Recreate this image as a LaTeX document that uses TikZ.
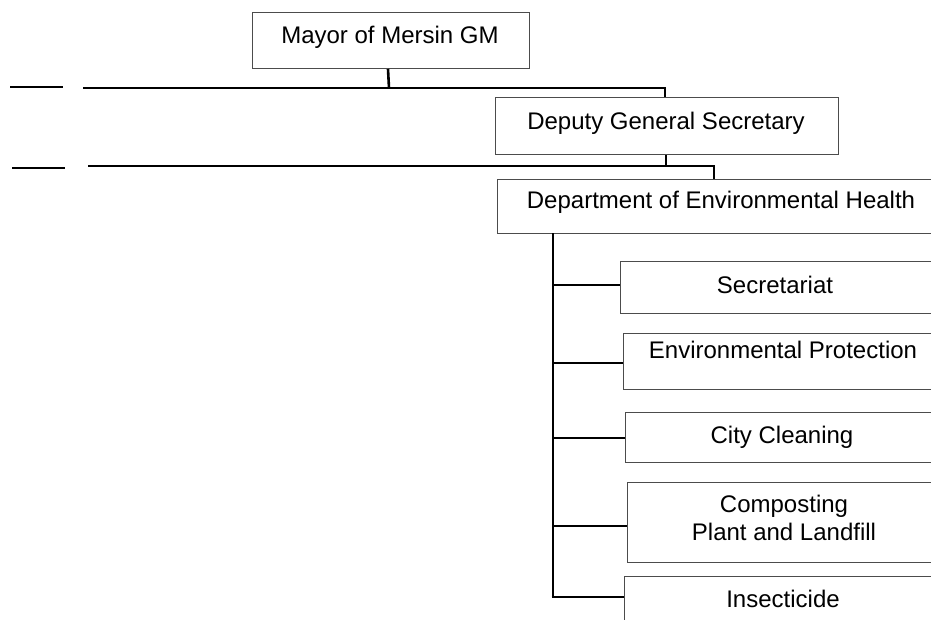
\documentclass[tikz,border=0pt]{standalone}
\usepackage{fontspec}
\setmainfont{Liberation Sans}
\begin{document}
\begin{tikzpicture}[x=1pt,y=-1pt,
  box/.style={draw=black!70,line width=1pt,rectangle,inner sep=0pt,anchor=north west},
  conn/.style={draw=black,line width=2.6pt},
  lbl/.style={inner sep=0pt,anchor=base,font=\fontsize{24}{28}\selectfont}]
\useasboundingbox (0,0) rectangle (931,619);
\clip (0,0) rectangle (931,619);
% boxes
\node[box,minimum width=277pt,minimum height=56pt] (mayor) at (252,12) {};
\node[box,minimum width=343pt,minimum height=57pt] (deputy) at (495,97) {};
\node[box,minimum width=450pt,minimum height=54pt] (dept) at (497,179) {};
\node[box,minimum width=330pt,minimum height=52pt] (sec) at (620,261) {};
\node[box,minimum width=330pt,minimum height=56pt] (env) at (623,333) {};
\node[box,minimum width=330pt,minimum height=50pt] (city) at (625,412) {};
\node[box,minimum width=330pt,minimum height=80pt] (comp) at (627,482) {};
\node[box,minimum width=330pt,minimum height=70pt] (insect) at (624,576) {};
% labels
\node[lbl] (tmayor) at (390,43) {Mayor of Mersin GM};
\node[lbl] (tdeputy) at (666,129) {Deputy General Secretary};
\node[lbl] (tdept) at (721,208) {Department of Environmental Health};
\node[lbl] (tsec) at (775,293) {Secretariat};
\node[lbl] (tenv) at (783,358) {Environmental Protection};
\node[lbl] (tcity) at (782,443) {City Cleaning};
\node[lbl] (tcomp1) at (784,512) {Composting};
\node[lbl] (tcomp2) at (784,540) {Plant and Landfill};
\node[lbl] (tinsect) at (783,607) {Insecticide};
% coordinates
\coordinate (d1a) at (10,87);
\coordinate (d1b) at (63,87);
\coordinate (d2a) at (12,168);
\coordinate (d2b) at (65,168);
\coordinate (h1l) at (83,88);
\coordinate (h1m) at (389,88);
\coordinate (h1r) at (665,88);
\coordinate (h2l) at (88,166);
\coordinate (h2m) at (666,166);
\coordinate (h2r) at (714,166);
\coordinate (ttop) at (553,233);
\coordinate (b1) at (553,285);
\coordinate (b2) at (553,363);
\coordinate (b3) at (553,438);
\coordinate (b4) at (553,526);
\coordinate (b5) at (553,597);
% connectors
\draw[conn] (d1a) -- (d1b);
\draw[conn] (d2a) -- (d2b);
\draw[conn] ([xshift=-3pt]mayor.south) -- (h1m);
\draw[conn] (h1l) -- (h1r) -- (h1r |- deputy.north);
\draw[conn] (deputy.south -| h2m) -- (h2m);
\draw[conn] (h2l) -- (h2r) -- (h2r |- dept.north);
\draw[conn] (ttop) -- ([yshift=1.3pt]b5);
\draw[conn] (b1) -- (b1 -| sec.west);
\draw[conn] (b2) -- (b2 -| env.west);
\draw[conn] (b3) -- (b3 -| city.west);
\draw[conn] (b4) -- (b4 -| comp.west);
\draw[conn] ([xshift=-1.3pt]b5) -- (b5 -| insect.west);
\end{tikzpicture}
\end{document}
